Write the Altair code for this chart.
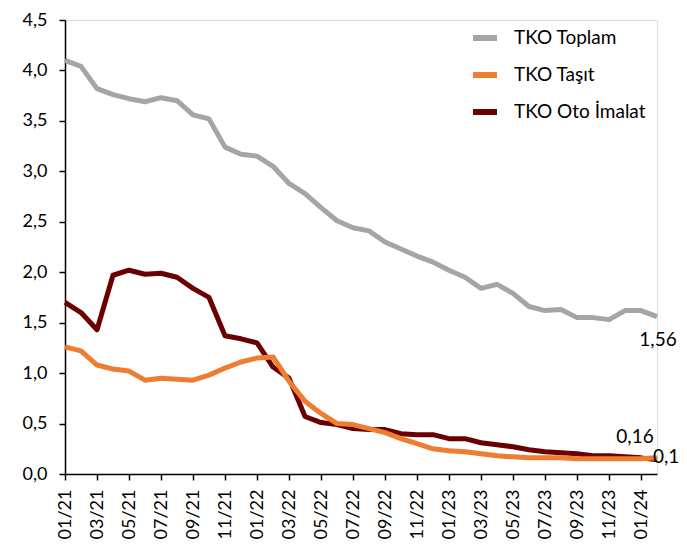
import altair as alt
import pandas as pd

months = [f"{m:02d}/{y}" for y in (21, 22, 23) for m in range(1, 13)] + ["01/24", "02/24"]
tick_labels = months[::2]

toplam = [4.10, 4.04, 3.82, 3.76, 3.72, 3.69, 3.73, 3.70, 3.56, 3.52,
          3.24, 3.17, 3.15, 3.05, 2.88, 2.78, 2.64, 2.51, 2.44, 2.41,
          2.30, 2.23, 2.16, 2.10, 2.02, 1.95, 1.84, 1.88, 1.79, 1.66,
          1.62, 1.63, 1.55, 1.55, 1.53, 1.62, 1.62, 1.56]
tasit = [1.26, 1.22, 1.08, 1.04, 1.02, 0.93, 0.95, 0.94, 0.93, 0.98,
         1.05, 1.11, 1.15, 1.16, 0.92, 0.72, 0.60, 0.50, 0.49, 0.45,
         0.41, 0.35, 0.30, 0.25, 0.23, 0.22, 0.20, 0.18, 0.17, 0.16,
         0.16, 0.16, 0.15, 0.15, 0.15, 0.15, 0.15, 0.16]
oto = [1.70, 1.60, 1.43, 1.97, 2.02, 1.98, 1.99, 1.95, 1.84, 1.75,
       1.37, 1.34, 1.30, 1.06, 0.95, 0.57, 0.51, 0.49, 0.45, 0.44,
       0.44, 0.40, 0.39, 0.39, 0.35, 0.35, 0.31, 0.29, 0.27, 0.24,
       0.22, 0.21, 0.20, 0.18, 0.18, 0.17, 0.16, 0.14]

series_names = ["TKO Toplam", "TKO Taşıt", "TKO Oto İmalat"]
series_colors = ["#A5A5A5", "#ED7D31", "#6B0000"]
y_ticks = [0, 0.5, 1, 1.5, 2, 2.5, 3, 3.5, 4, 4.5]

rows = []
for name, vals in zip(series_names, [toplam, tasit, oto]):
    for i, (m, v) in enumerate(zip(months, vals)):
        rows.append({"month": m, "series": name, "value": v, "last": i == len(months) - 1})
df = pd.DataFrame(rows)

FONT = "Lato"

x_enc = alt.X("month:O", sort=months,
              scale=alt.Scale(type="point", padding=0, domain=months),
              axis=alt.Axis(values=tick_labels, labelAngle=-90, title=None,
                            labelFontSize=18, labelFont=FONT, labelColor="#000",
                            tickSize=6, labelPadding=9, domainColor="#000",
                            domainWidth=1.5, tickColor="#000", tickWidth=1.5,
                            grid=False, labelBaseline="middle", labelAlign="right"))
y_enc = alt.Y("value:Q", scale=alt.Scale(domain=[0, 4.5], nice=False),
              axis=alt.Axis(values=y_ticks, title=None, grid=False,
                            labelExpr="replace(format(datum.value, '.1f'), '.', ',')",
                            labelFontSize=18, labelFont=FONT, labelColor="#000",
                            tickSize=6, labelPadding=12, domainColor="#000",
                            domainWidth=1.5, tickColor="#000", tickWidth=1.5))
color_enc = alt.Color("series:N",
                      scale=alt.Scale(domain=series_names, range=series_colors),
                      legend=alt.Legend(title=None, orient="none", legendX=405, legendY=3,
                                        symbolType="stroke", symbolStrokeWidth=6,
                                        symbolSize=576, labelFontSize=19, labelFont=FONT,
                                        labelColor="#000", labelOffset=14, rowPadding=10,
                                        padding=0))

base = alt.Chart(df)

def line_for(name):
    return base.transform_filter(alt.datum.series == name).mark_line(
        strokeWidth=5, strokeJoin="round", strokeCap="butt"
    ).encode(x=x_enc, y=y_enc, color=color_enc)

def label_for(name, dx, dy, align):
    return base.transform_filter(
        (alt.datum.series == name) & (alt.datum.last == True)
    ).transform_calculate(
        lbl="replace(format(datum.value, '.2f'), '.', ',')"
    ).mark_text(font=FONT, fontSize=19, color="#000", dx=dx, dy=dy, align=align,
                baseline="middle").encode(x=x_enc, y=y_enc, text="lbl:N")

chart = alt.layer(
    line_for("TKO Toplam"),
    line_for("TKO Oto İmalat"),
    line_for("TKO Taşıt"),
    label_for("TKO Toplam", 1, 23, "center"),
    label_for("TKO Taşıt", -22, -21, "center"),
    label_for("TKO Oto İmalat", -4, -3, "left"),
).properties(
    width=592, height=454,
    autosize=alt.AutoSizeParams(type="none"),
    padding={"left": 57, "top": 12, "right": 22, "bottom": 66},
).configure_view(stroke=None).configure(background="white")

chart.save("out.html", embed_options={"renderer": "svg", "actions": False})
